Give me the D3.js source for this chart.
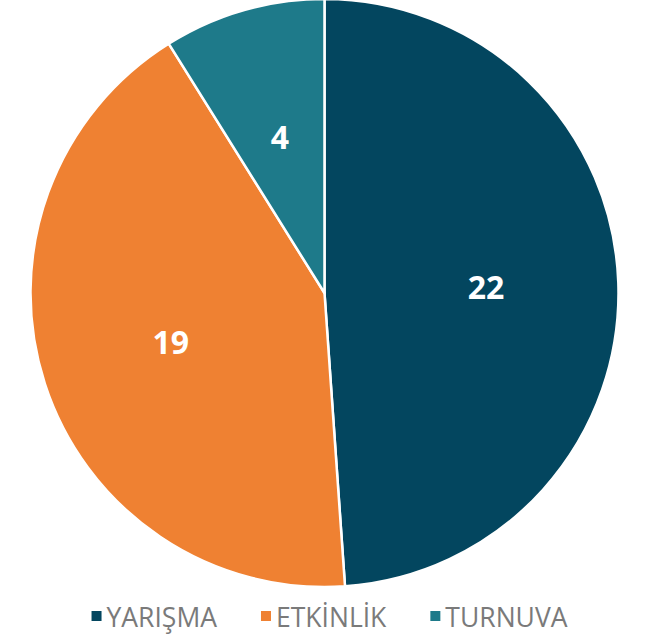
<!DOCTYPE html>
<html>
<head>
<meta charset="utf-8">
<script src="https://cdn.jsdelivr.net/npm/d3@7"></script>
<style>
  html, body { margin: 0; padding: 0; background: #fff; }
  svg { display: block; }
</style>
</head>
<body>
<svg id="chart" width="654" height="635"></svg>
<script>
// Event counts by type
const categories = ["YARIŞMA", "ETKİNLİK", "TURNUVA"];
const values = [22, 19, 4];
const colors = ["#03465f", "#ef8132", "#1e7a8a"];

const width = 654, height = 635;
const cx = 324.5, cy = 293, radius = 294;

const svg = d3.select("#chart");
const g = svg.append("g").attr("transform", `translate(${cx},${cy})`);

const pie = d3.pie().sort(null).value(d => d.value);
const data = categories.map((c, i) => ({ name: c, value: values[i], color: colors[i] }));
const arcs = pie(data);

const arc = d3.arc().innerRadius(0).outerRadius(radius);
const labelArc = d3.arc().innerRadius(radius * 0.55).outerRadius(radius * 0.55);

g.selectAll("path.slice")
  .data(arcs)
  .join("path")
  .attr("class", "slice")
  .attr("d", arc)
  .attr("fill", d => d.data.color)
  .attr("stroke", "#ffffff")
  .attr("stroke-width", 2.5)
  .attr("stroke-linejoin", "round");

g.selectAll("text.value")
  .data(arcs)
  .join("text")
  .attr("class", "value")
  .attr("transform", d => `translate(${labelArc.centroid(d)})`)
  .attr("text-anchor", "middle")
  .attr("dy", "0.36em")
  .attr("fill", "#ffffff")
  .style("font-family", "'Open Sans', sans-serif")
  .style("font-weight", 700)
  .style("font-size", "32px")
  .text(d => d.data.value);

// Legend along the bottom, centred
const legend = svg.append("g").attr("class", "legend");
const legendY = 617;
const marker = 10, markerGap = 5, itemGap = 44;
const items = legend.selectAll("g.item")
  .data(data)
  .join("g")
  .attr("class", "item");

items.append("rect")
  .attr("width", marker)
  .attr("height", marker)
  .attr("y", legendY - marker / 2 - 1)
  .attr("fill", d => d.color);

items.append("text")
  .attr("x", marker + markerGap)
  .attr("y", legendY)
  .attr("dy", "0.36em")
  .attr("fill", "#7a7a7a")
  .style("font-family", "'Open Sans', sans-serif")
  .style("font-size", "26.5px")
  .text(d => d.name);

let x = 0;
const offsets = [];
items.each(function () {
  const w = this.querySelector("text").getComputedTextLength();
  offsets.push(x);
  x += marker + markerGap + w + itemGap;
});
const total = x - itemGap;
const startX = 329.5 - total / 2;
items.attr("transform", (d, i) => `translate(${startX + offsets[i]},0)`);
</script>
</body>
</html>
